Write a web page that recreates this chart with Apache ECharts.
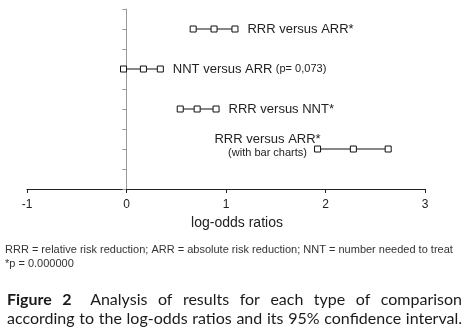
<!DOCTYPE html>
<html>
<head>
<meta charset="utf-8">
<script src="https://cdn.jsdelivr.net/npm/echarts@6/dist/echarts.min.js"></script>
<style>
html,body{margin:0;padding:0;background:#fff;}
#chart{width:467px;height:336px;}
</style>
</head>
<body>
<div id="chart"></div>
<script>
// ---- data ----
const categories = ['RRR versus ARR*', 'NNT versus ARR', 'RRR versus NNT*', 'RRR versus ARR*'];
const notes = ['', '(p= 0,073)', '', '(with bar charts)'];
const rowPos = [8, 6, 4, 2];
const lower = [0.67, -0.03, 0.54, 1.92];
const estimate = [0.88, 0.17, 0.71, 2.28];
const upper = [1.09, 0.34, 0.90, 2.63];
const xTickValues = [-1, 0, 1, 2, 3];
const axisTitle = 'log-odds ratios';
const footnotes = ['RRR = relative risk reduction; ARR = absolute risk reduction; NNT = number needed to treat', '*p = 0.000000'];
const captionBold = 'Figure 2';
const captionLine1 = 'Analysis of results for each type of comparison';
const captionLine2 = 'according to the log-odds ratios and its 95% confidence interval.';

// ---- helpers ----
const cv = document.createElement('canvas').getContext('2d');
function tw(text, font) { cv.font = font; return cv.measureText(text).width; }

const CAP_FAMILY = 'Lato, "Open Sans", sans-serif';
const SANS = '"Liberation Sans", Arial, sans-serif';
const capLeft = 7, capRight = 462;
const avail = capRight - capLeft;

// caption font size: last line sets naturally to full width
let capSize = 15 * avail / tw(captionLine2, '15px ' + CAP_FAMILY);
capSize = Math.min(capSize, 16);

function justified(words, y) {
  const fs = capSize;
  const fontOf = (w) => (w.bold ? 'bold ' : '') + fs.toFixed(2) + 'px ' + CAP_FAMILY;
  const total = words.reduce((a, w) => a + tw(w.t, fontOf(w)) + (w.extra || 0), 0);
  const gap = (avail - total) / (words.length - 1);
  let x = capLeft;
  const els = [];
  words.forEach(w => {
    els.push({
      type: 'text', left: x, top: y,
      style: { text: w.t, font: fontOf(w), fill: '#1a1a1a' }
    });
    x += tw(w.t, fontOf(w)) + (w.extra || 0) + gap;
  });
  return els;
}

const line1Words = captionBold.split(' ').map((t, i, arr) => ({ t, bold: true, extra: i === arr.length - 1 ? 8 : 0 }))
  .concat(captionLine1.split(' ').map(t => ({ t })));
const line2Words = captionLine2.split(' ').map(t => ({ t }));

const graphics = [
  { type: 'text', left: 5, top: 244, style: { text: footnotes[0], fontSize: 11, fontFamily: SANS, fill: '#333' } },
  { type: 'text', left: 5, top: 258, style: { text: footnotes[1], fontSize: 11, fontFamily: SANS, fill: '#333' } }
].concat(justified(line1Words, 292)).concat(justified(line2Words, 311));

// ---- series ----
const series = categories.map((name, i) => {
  const isLeft = i === 3;
  const labelText = notes[i]
    ? (isLeft ? '{a|' + name + '}\n{b|' + notes[i] + '}' : '{a|' + name + '} {b|' + notes[i] + '}')
    : '{a|' + name + '}';
  const labelCfg = isLeft
    ? { show: true, position: [-46.5, 0.7], align: 'center', verticalAlign: 'middle', formatter: labelText,
        rich: { a: { fontSize: 13, lineHeight: 14, color: '#222', fontFamily: SANS },
                b: { fontSize: 11, lineHeight: 14, color: '#222', fontFamily: SANS } } }
    : { show: true, position: 'right', distance: 9, formatter: labelText,
        rich: { a: { fontSize: 13, color: '#222', fontFamily: SANS },
                b: { fontSize: 11, color: '#222', fontFamily: SANS } } };
  const pts = [lower[i], estimate[i], upper[i]].map((v, k) => {
    const d = { value: [v, rowPos[i]] };
    if ((isLeft && k === 0) || (!isLeft && k === 2)) d.label = labelCfg;
    return d;
  });
  return {
    type: 'line', name: name, data: pts,
    symbol: 'rect', symbolSize: 6, showSymbol: true,
    lineStyle: { color: '#111', width: 1 },
    itemStyle: { color: '#fff', borderColor: '#111', borderWidth: 1 },
    label: { show: false },
    animation: false, silent: true, z: 3
  };
});

const chart = echarts.init(document.getElementById('chart'), null, { renderer: 'canvas' });
chart.setOption({
  animation: false,
  backgroundColor: '#fff',
  grid: { left: 27, top: 9, width: 398, height: 180, containLabel: false },
  xAxis: {
    type: 'value', min: xTickValues[0], max: xTickValues[xTickValues.length - 1], interval: 1,
    name: axisTitle, nameLocation: 'middle', nameGap: 27,
    nameTextStyle: { fontSize: 14, color: '#222', fontFamily: SANS, padding: [0, 0, 0, 22] },
    axisLine: { onZero: false, lineStyle: { color: '#222', width: 1 } },
    axisTick: { show: true, length: 4, lineStyle: { color: '#222' } },
    axisLabel: { fontSize: 12, color: '#222', fontFamily: SANS, margin: 10 },
    splitLine: { show: false }
  },
  yAxis: {
    type: 'value', min: 0, max: 9, interval: 1,
    axisLine: { show: true, onZero: true, lineStyle: { color: '#999', width: 1 } },
    axisTick: { show: true, length: 4, lineStyle: { color: '#999' } },
    axisLabel: { show: false },
    splitLine: { show: false }
  },
  series: series,
  graphic: graphics
});
</script>
</body>
</html>
